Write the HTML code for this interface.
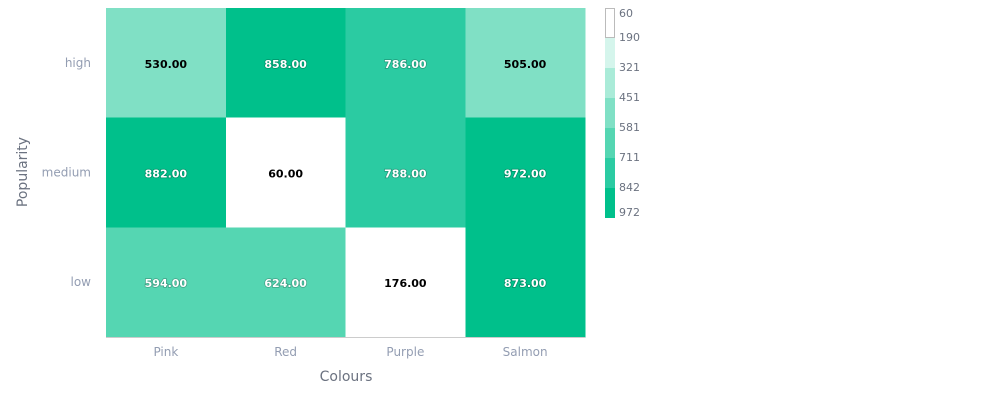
<!DOCTYPE html>
<html><head><meta charset="utf-8"><style>
body{margin:0;background:#fff;font-family:"DejaVu Sans","Liberation Sans",sans-serif}
svg text{font-family:"DejaVu Sans","Liberation Sans",sans-serif}
</style></head><body>
<svg width="1008" height="400">
<g id="cells"></g>
<g id="axes"></g>
<g id="legend"></g>
<text x="346" y="381" text-anchor="middle" font-size="14" fill="#6b7280">Colours</text>
<text transform="translate(27,172) rotate(-90)" text-anchor="middle" font-size="14" fill="#6b7280">Popularity</text>
</svg>
<script>
const xCats = ["Pink","Red","Purple","Salmon"];
const yCats = ["high","medium","low"];
const highVals = [530,858,786,505];
const mediumVals = [882,60,788,972];
const lowVals = [594,624,176,873];
const legendTicks = [60,190,321,451,581,711,842,972];
const bandColors = ["#ffffff","#d5f5ec","#aaebd8","#80e0c5","#55d6b2","#2bcba2","#00c08b"];
const rows=[highVals,mediumVals,lowVals];
const NS="http://www.w3.org/2000/svg";
const px0=106,px1=585,py0=8,py1=337;
const cw=(px1-px0)/xCats.length, ch=(py1-py0)/yCats.length;
const xPos=i=>px0+i*cw, yPos=j=>py0+j*ch;
const vmin=legendTicks[0], vmax=legendTicks[legendTicks.length-1];
function band(v){let k=Math.floor((v-vmin)/(vmax-vmin)*bandColors.length);return Math.max(0,Math.min(bandColors.length-1,k));}
function mk(t,a,p){const e=document.createElementNS(NS,t);for(const k in a)e.setAttribute(k,a[k]);p.appendChild(e);return e;}
const cells=document.getElementById('cells');
rows.forEach((r,j)=>r.forEach((v,i)=>{
 const b=band(v);
 const rc=mk('rect',{x:xPos(i),y:yPos(j),width:cw+0.5,height:ch+0.5,fill:bandColors[b],'shape-rendering':'crispEdges'},cells);
 
 
 const dark=b>=4;
 const t=mk('text',{x:xPos(i)+cw/2,y:yPos(j)+ch/2+5,'text-anchor':'middle','font-size':11,'font-weight':'bold',fill:dark?'#fff':'#000',style:dark?'paint-order:stroke;stroke:rgba(0,0,0,0.25);stroke-width:1.5px':''},cells);
 t.textContent=v.toFixed(2);
 
 
}));
const ax=document.getElementById('axes');
const ln=mk('line',{x1:px0,x2:px1,y1:py1+0.5,y2:py1+0.5,stroke:'#ccc'},ax);


xCats.forEach((c,i)=>{const t=mk('text',{x:xPos(i)+cw/2,y:356,'text-anchor':'middle','font-size':12,fill:'#939db2'},ax);t.textContent=c;
 
 });
yCats.forEach((c,j)=>{const t=mk('text',{x:91,y:yPos(j)+ch/2+4,'text-anchor':'end','font-size':12,fill:'#939db2'},ax);t.textContent=c;
 
 });
const lg=document.getElementById('legend');
const ly0=8,lh=30;
bandColors.forEach((c,k)=>{const r=mk('rect',{x:605,y:ly0+k*lh,width:10,height:lh,fill:c},lg);
 if(k===0){r.setAttribute('stroke','#bbb');r.setAttribute('x',605.5);r.setAttribute('y',8.5);r.setAttribute('width',9);r.setAttribute('height',29);}
 
 });
legendTicks.forEach((v,k)=>{const y=k===0?17:(k===legendTicks.length-1?216:ly0+k*lh+3);
 const t=mk('text',{x:619,y:y,'font-size':11,fill:'#6b7280'},lg);t.textContent=v;
 
 });
</script>
</body></html>
